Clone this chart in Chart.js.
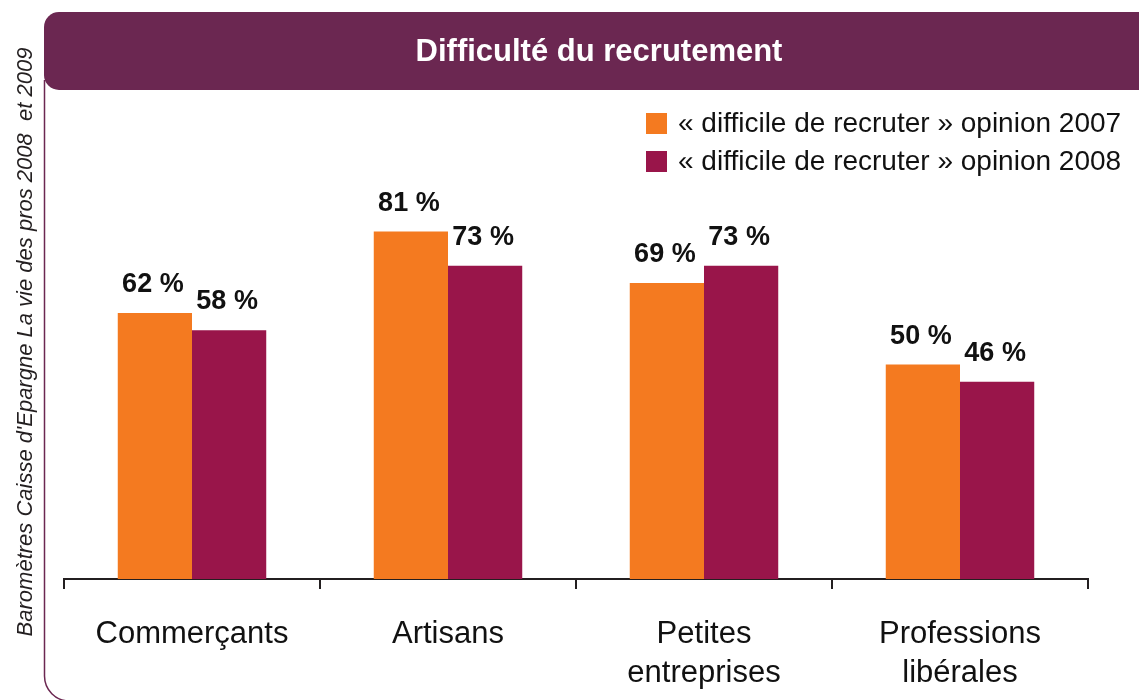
<!DOCTYPE html>
<html>
<head>
<meta charset="utf-8">
<title>Difficulté du recrutement</title>
<script src="https://cdn.jsdelivr.net/npm/chart.js@4/dist/chart.umd.min.js"></script>
<style>
  html, body { margin: 0; padding: 0; background: #fff; }
  #wrap { width: 1139px; height: 700px; position: relative; }
</style>
</head>
<body>
<div id="wrap"><canvas id="myChart" width="1139" height="700"></canvas></div>
<script>
const title = 'Difficulté du recrutement';
const source = "Baromètres Caisse d'Epargne La vie des pros 2008  et 2009";
const categories = [['Commerçants'], ['Artisans'], ['Petites', 'entreprises'], ['Professions', 'libérales']];
const seriesNames = ['« difficile de recruter » opinion 2007', '« difficile de recruter » opinion 2008'];
const values2007 = [62, 81, 69, 50];
const values2008 = [58, 73, 73, 46];

const orange = '#F47A20';
const purple = '#99154A';
const banner = '#6B2751';
const sans = "'Liberation Sans', Arial, sans-serif";

// frame, banner and vertical source text
const framePlugin = {
  id: 'frame',
  beforeDraw(chart) {
    const ctx = chart.ctx;
    ctx.save();
    ctx.strokeStyle = banner;
    ctx.lineWidth = 1.5;
    ctx.beginPath();
    ctx.moveTo(44.5, 80);
    ctx.lineTo(44.5, 676);
    ctx.arcTo(44.5, 701, 70, 701, 25);
    ctx.lineTo(1160, 701);
    ctx.stroke();

    ctx.fillStyle = banner;
    ctx.beginPath();
    ctx.roundRect(44, 12, 1130, 78, 15);
    ctx.fill();

    ctx.fillStyle = '#fff';
    ctx.font = 'bold 31px ' + sans;
    ctx.textAlign = 'center';
    ctx.textBaseline = 'alphabetic';
    ctx.fillText(title, 599, 61);

    ctx.translate(32, 342);
    ctx.rotate(-Math.PI / 2);
    ctx.fillStyle = '#231F20';
    ctx.font = 'italic 22px ' + sans;
    ctx.fillText(source, 0, 0);
    ctx.restore();
  }
};

// percent labels above bars
const valuePlugin = {
  id: 'values',
  afterDatasetsDraw(chart) {
    const ctx = chart.ctx;
    ctx.save();
    ctx.fillStyle = '#111';
    ctx.font = 'bold 27px ' + sans;
    ctx.textAlign = 'center';
    ctx.textBaseline = 'alphabetic';
    chart.data.datasets.forEach((ds, i) => {
      chart.getDatasetMeta(i).data.forEach((bar, j) => {
        ctx.fillText(ds.data[j] + ' %', bar.x - 2, bar.y - 21);
      });
    });
    ctx.restore();
  }
};

// legend in the top right corner
const legendPlugin = {
  id: 'sideLegend',
  afterDraw(chart) {
    const ctx = chart.ctx;
    ctx.save();
    ctx.font = '28px ' + sans;
    ctx.textBaseline = 'middle';
    ctx.textAlign = 'left';
    chart.data.datasets.forEach((ds, i) => {
      const cy = 123.5 + i * 38;
      ctx.fillStyle = ds.backgroundColor;
      ctx.fillRect(646, cy - 10.5, 21, 21);
      ctx.fillStyle = '#111';
      ctx.fillText(ds.label, 678, cy + 1);
    });
    ctx.restore();
  }
};

const ctx = document.getElementById('myChart');

new Chart(ctx, {
  type: 'bar',
  data: {
    labels: categories,
    datasets: [
      { label: seriesNames[0], data: values2007, backgroundColor: orange },
      { label: seriesNames[1], data: values2008, backgroundColor: purple },
    ],
  },
  options: {
    responsive: false,
    animation: false,
    devicePixelRatio: 1,
    categoryPercentage: 0.58,
    barPercentage: 1,
    layout: { padding: { left: 64, right: 51, top: 150, bottom: 0 } },
    plugins: {
      legend: { display: false },
      tooltip: { enabled: false },
    },
    scales: {
      x: {
        offset: true,
        grid: {
          offset: true,
          drawOnChartArea: false,
          drawTicks: true,
          tickLength: 10,
          color: '#231F20',
          lineWidth: 2,
        },
        border: { display: true, color: '#231F20', width: 2 },
        ticks: {
          color: '#111',
          padding: 26,
          maxRotation: 0,
          autoSkip: false,
          font: { family: sans, size: 31, lineHeight: '39px' },
        },
        afterFit: (scale) => { scale.height = 121; },
      },
      y: {
        display: false,
        min: 0,
        max: 100,
      },
    },
  },
  plugins: [framePlugin, valuePlugin, legendPlugin],
});
</script>
</body>
</html>
